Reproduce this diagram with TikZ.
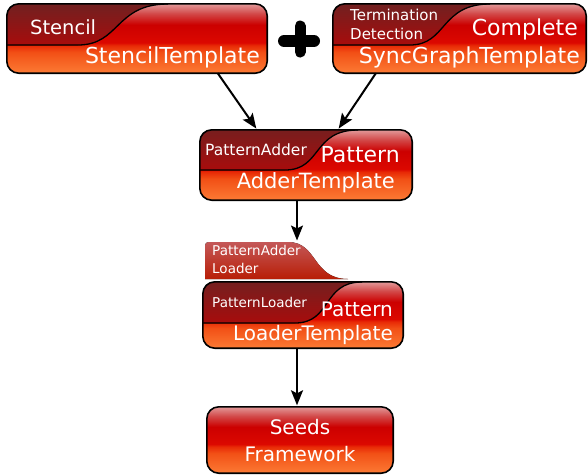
\documentclass[tikz,border=0pt]{standalone}
\usepackage{fontspec}
\setmainfont{DejaVu Sans}
\usetikzlibrary{calc,arrows.meta}
\definecolor{sA}{RGB}{252,122,52}
\definecolor{sB}{RGB}{242,80,22}
\definecolor{sC}{RGB}{232,42,6}
\definecolor{sD}{RGB}{220,8,0}
\definecolor{sE}{RGB}{204,0,0}
\definecolor{sF}{RGB}{210,72,72}
\definecolor{sG}{RGB}{226,152,152}
\definecolor{dkTop}{RGB}{108,34,34}
\definecolor{dkBot}{RGB}{168,12,12}
\definecolor{tbTop}{RGB}{196,88,88}
\definecolor{tbMid}{RGB}{198,8,8}
\definecolor{tbBot}{RGB}{184,30,6}
\pgfdeclareverticalshading{boxshade}{100bp}{color(0bp)=(sA); color(25bp)=(sA); color(40bp)=(sB); color(45bp)=(sC); color(47bp)=(sD); color(60bp)=(sE); color(68bp)=(sF); color(75bp)=(sG); color(100bp)=(sG)}
\tikzset{
  boxbase/.style={shading=boxshade, rounded corners=12pt, inner sep=0pt, draw=none},
  border/.style={draw=black, line width=1.6pt, rounded corners=12pt},
  darkfill/.style={top color=dkTop, bottom color=dkBot},
  divider/.style={draw=black, line width=1.3pt},
  big/.style={font=\fontsize{22}{24}\selectfont, text=white, inner sep=0pt},
  mid/.style={font=\fontsize{20}{27}\selectfont, text=white, inner sep=0pt},
  small/.style={font=\fontsize{15}{19}\selectfont, text=white, inner sep=0pt},
  tiny/.style={font=\fontsize{13.5}{17}\selectfont, text=white, inner sep=0pt},
  arr/.style={draw=black, line width=2pt, shorten >=1.5pt, -{Stealth[length=15pt,width=12pt,inset=3pt]}},
}
\begin{document}
\begin{tikzpicture}[x=1pt,y=-1pt]
\useasboundingbox (0,0) rectangle (588,475);

% ---------- Stencil box
\node[boxbase, minimum width=260pt, minimum height=69pt] (stencil) at (137,38.5) {};
\begin{scope}
\clip[rounded corners=12pt] (stencil.south west) rectangle (stencil.north east);
\fill[darkfill] (0,0) -- (0,45) -- (78,45) .. controls (120,45) and (115,4) .. (168,4) -- (168,0) -- cycle;
\draw[divider] (0,45) -- (78,45) .. controls (120,45) and (115,4) .. (168,4);
\end{scope}
\draw[border] (stencil.south west) rectangle (stencil.north east);
\node[small, font=\fontsize{19.5}{22}\selectfont, anchor=west] (t1) at (30,27) {Stencil};
\node[big, anchor=east] (t2) at (260,57) {StencilTemplate};

% ---------- plus sign
\draw[line width=12pt, line cap=round] (284,41) -- (314,41);
\draw[line width=11pt, line cap=round] (300,26) -- (300,52);

% ---------- Sync box
\node[boxbase, minimum width=253pt, minimum height=69pt] (sync) at (459.5,38.5) {};
\begin{scope}
\clip[rounded corners=12pt] (sync.south west) rectangle (sync.north east);
\fill[darkfill] (320,0) -- (320,45) -- (410,45) .. controls (447,45) and (440,4) .. (490,4) -- (490,0) -- cycle;
\draw[divider] (320,45) -- (410,45) .. controls (447,45) and (440,4) .. (490,4);
\end{scope}
\draw[border] (sync.south west) rectangle (sync.north east);
\node[small, anchor=west] (t3) at (350,15) {Termination};
\node[small, anchor=west] (t4) at (350,34) {Detection};
\node[big, anchor=east] (t5) at (578,29) {Complete};
\node[big, anchor=east] (t6) at (580,57) {SyncGraphTemplate};

% ---------- PatternAdder box
\node[boxbase, minimum width=212pt, minimum height=70pt] (adder) at (306,165) {};
\begin{scope}
\clip[rounded corners=12pt] (adder.south west) rectangle (adder.north east);
\fill[darkfill] (190,120) -- (190,170) -- (285,170) .. controls (322,170) and (312,130) .. (358,130) -- (358,120) -- cycle;
\draw[divider] (190,170) -- (285,170) .. controls (322,170) and (312,130) .. (358,130);
\end{scope}
\draw[border] (adder.south west) rectangle (adder.north east);
\node[small, font=\fontsize{15.5}{19}\selectfont, anchor=west] (t7) at (205,150) {PatternAdder};
\node[big, anchor=east] (t8) at (400,155) {Pattern};
\node[big, font=\fontsize{21}{24}\selectfont, anchor=east] (t9) at (395,183) {AdderTemplate};

% ---------- tab
\coordinate (tabtop) at (297,242);
\fill[top color=tbTop, middle color=tbMid, bottom color=tbBot]
  (205,279) -- (205,250) .. controls (205,242) .. (213,242) -- (288,242)
  .. controls (318,242) and (312,279) .. (348,279) -- cycle;
\node[tiny, anchor=west] (t10) at (212,250) {PatternAdder};
\node[tiny, anchor=west] (t11) at (212,268) {Loader};

% ---------- PatternLoader box
\node[boxbase, minimum width=200pt, minimum height=66pt] (loader) at (303,315) {};
\begin{scope}
\clip[rounded corners=12pt] (loader.south west) rectangle (loader.north east);
\fill[darkfill] (195,275) -- (195,323) -- (295,323) .. controls (332,323) and (322,282) .. (362,282) -- (362,275) -- cycle;
\draw[divider] (195,323) -- (295,323) .. controls (332,323) and (322,282) .. (362,282);
\end{scope}
\draw[border] (loader.south west) rectangle (loader.north east);
\node[tiny, anchor=west] (t12) at (212,302) {PatternLoader};
\node[mid, anchor=east] (t13) at (393,309) {Pattern};
\node[mid, anchor=east] (t14) at (393,335) {LoaderTemplate};

% ---------- Seeds box
\node[boxbase, minimum width=186pt, minimum height=66pt] (seeds) at (300,440) {};
\draw[border] (seeds.south west) rectangle (seeds.north east);
\node[mid, align=center] (t15) at (300,441) {Seeds\\Framework};

% ---------- arrows
\draw[arr] ($(stencil.south west)!0.81!(stencil.south east)$) -- ($(adder.north west)!0.27!(adder.north east)$);
\draw[arr] ($(sync.south west)!0.17!(sync.south east)$) -- ($(adder.north west)!0.65!(adder.north east)$);
\draw[arr] (adder.south -| tabtop) -- (tabtop);
\draw[arr] (loader.south -| tabtop) -- (seeds.north -| tabtop);
\end{tikzpicture}
\end{document}
